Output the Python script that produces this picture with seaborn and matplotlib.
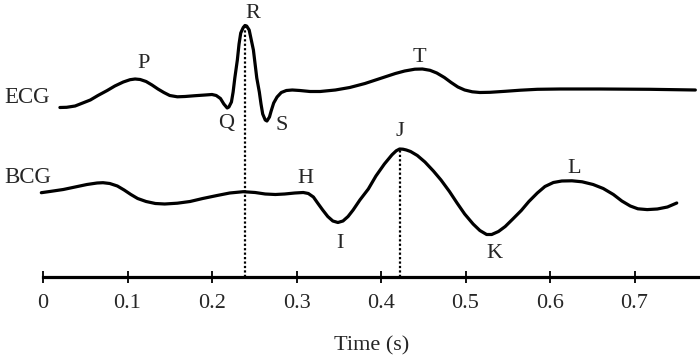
import numpy as np
import pandas as pd
import matplotlib
matplotlib.use("Agg")
import matplotlib.pyplot as plt
import seaborn as sns

# ---- data, time in s, amplitude in arbitrary units ----
ecg_time = [0.020, 0.028, 0.038, 0.047, 0.056, 0.065, 0.076, 0.085, 0.095, 0.103,
            0.109, 0.115, 0.122, 0.129, 0.136, 0.143, 0.150, 0.159, 0.168, 0.180,
            0.192, 0.200, 0.205, 0.210, 0.214, 0.218, 0.220, 0.223, 0.225, 0.227,
            0.230, 0.232, 0.234, 0.237, 0.239, 0.241, 0.244, 0.246, 0.249, 0.251,
            0.253, 0.256, 0.258, 0.260, 0.263, 0.265, 0.268, 0.270, 0.273, 0.277,
            0.282, 0.288, 0.295, 0.304, 0.316, 0.328, 0.346, 0.363, 0.381, 0.399,
            0.417, 0.428, 0.440, 0.449, 0.458, 0.466, 0.475, 0.483, 0.491, 0.499,
            0.508, 0.517, 0.529, 0.547, 0.565, 0.585, 0.612, 0.659, 0.718, 0.772]
ecg_amp = [-15.5, -15.3, -14, -11, -8, -3.5, 1.5, 6, 10, 12.3,
           13, 12.5, 10.5, 7, 3, -0.5, -3.5, -4.8, -4.5, -3.7,
           -3, -2.5, -3.5, -6.5, -12, -16, -15, -10, 0, 14,
           32, 48, 59, 64.5, 66.5, 66, 62, 54, 42, 28,
           14, 0, -12, -22, -28, -29, -25, -19, -11, -5,
           -0.5, 1.5, 2, 1.5, 0.5, 0.5, 2, 4.5, 8.5, 13.5,
           18.5, 21, 22.8, 23, 21.7, 19, 14.5, 9.5, 5, 2,
           0.2, -0.5, -0.3, 0.7, 1.8, 2.7, 3, 3, 2.7, 2]

bcg_time = [-0.002, 0.008, 0.024, 0.038, 0.052, 0.064, 0.071, 0.079, 0.088, 0.096,
            0.104, 0.112, 0.122, 0.133, 0.144, 0.159, 0.174, 0.189, 0.206, 0.221,
            0.237, 0.251, 0.263, 0.275, 0.286, 0.298, 0.308, 0.314, 0.320, 0.325,
            0.331, 0.337, 0.343, 0.349, 0.355, 0.361, 0.367, 0.375, 0.385, 0.394,
            0.404, 0.413, 0.418, 0.422, 0.426, 0.430, 0.435, 0.443, 0.452, 0.462,
            0.471, 0.481, 0.490, 0.499, 0.509, 0.517, 0.525, 0.531, 0.539, 0.547,
            0.556, 0.566, 0.575, 0.585, 0.594, 0.604, 0.614, 0.626, 0.638, 0.651,
            0.663, 0.675, 0.685, 0.695, 0.704, 0.715, 0.727, 0.739, 0.750]
bcg_amp = [-0.7, 0.5, 2.5, 5, 7.5, 9, 9.3, 8.5, 6, 2,
           -2.5, -6.5, -9.5, -11.5, -12, -11.2, -9.5, -6.5, -3.5, -1,
           0.3, -0.5, -2, -2.5, -2, -1, -0.5, -1.5, -5, -11,
           -18, -24.5, -29, -30.5, -29, -24.5, -18, -8, 3, 16,
           28, 37.2, 41.2, 43, 42.8, 42, 40.5, 36.5, 30, 21,
           12, 0.5, -11, -22, -32, -38.5, -42.5, -42.5, -39.5, -34.5,
           -27, -18.5, -9.5, -1, 5.5, 9.5, 11, 11.2, 10.2, 7.5,
           3.5, -2.5, -9, -14, -16.8, -17.6, -17, -15, -11]

tick_values = [0, 0.1, 0.2, 0.3, 0.4, 0.5, 0.6, 0.7]
tick_labels = ["0", "0.1", "0.2", "0.3", "0.4", "0.5", "0.6", "0.7"]

trace_names = ["ECG", "BCG"]
ecg_waves = ["P", "Q", "R", "S", "T"]
bcg_waves = ["H", "I", "J", "K", "L"]

# ---- layout ----
ecg_offset = 185
bcg_offset = 85
ecg_df = pd.DataFrame({"time": ecg_time, "y": np.array(ecg_amp) + ecg_offset})
bcg_df = pd.DataFrame({"time": bcg_time, "y": np.array(bcg_amp) + bcg_offset})

sns.set_style("white")
plt.rcParams["font.family"] = ["Liberation Serif", "DejaVu Serif"]

fig = plt.figure(figsize=(7.0, 3.61), dpi=100)
ax = fig.add_axes([0.0, 1 - 277 / 361, 1.0, 277 / 361])

line_kw = dict(color="black", lw=2.3, sort=False, estimator=None)
sns.lineplot(data=ecg_df, x="time", y="y", ax=ax, **line_kw)
sns.lineplot(data=bcg_df, x="time", y="y", ax=ax, **line_kw)
for ln in ax.lines:
    ln.set_solid_joinstyle("round")
    ln.set_solid_capstyle("round")

# dotted markers at R and J peaks
r_i = int(np.argmax(ecg_amp))
j_i = int(np.argmax(bcg_amp))
ax.vlines([ecg_time[r_i]], 0, ecg_amp[r_i] + ecg_offset, color="black",
          lw=1.6, linestyles=(0, (1, 1)))
ax.vlines([bcg_time[j_i]], 0, bcg_amp[j_i] + bcg_offset, color="black",
          lw=1.6, linestyles=(0, (1, 1)))

ax.set_xlim(-43 / 845, 657 / 845)
ax.set_ylim(0, 277)

fs = 16.5
ax.text(-0.0183, 174, trace_names[0], ha="center", va="baseline", fontsize=fs)
ax.text(-0.0183, 94, trace_names[1], ha="center", va="baseline", fontsize=fs)

ecg_pos = [(0.119, 209), (0.217, 149), (0.2485, 259), (0.283, 147), (0.446, 215)]
bcg_pos = [(0.310, 94), (0.351, 29), (0.4225, 141), (0.534, 19), (0.628, 104)]
for name, (tx, ty) in zip(ecg_waves, ecg_pos):
    ax.text(tx, ty, name, ha="center", va="baseline", fontsize=fs - 0.5)
for name, (tx, ty) in zip(bcg_waves, bcg_pos):
    ax.text(tx, ty, name, ha="center", va="baseline", fontsize=fs - 0.5)

for s in ["top", "right", "left"]:
    ax.spines[s].set_visible(False)
ax.spines["bottom"].set_linewidth(2.3)
ax.spines["bottom"].set_color("black")
ax.spines["bottom"].set_bounds(0, 657 / 845)

ax.set_yticks([])
ax.set_xticks(tick_values)
ax.set_xticklabels(tick_labels)
ax.tick_params(axis="x", direction="inout", length=8, width=1.3, color="black",
               labelsize=16, pad=8, bottom=True)
ax.set_xlabel("Time (s)", fontsize=16)
ax.xaxis.label.set_va("center")
ax.xaxis.set_label_coords(372 / 700, -(346 - 277) / 277)
ax.set_ylabel("")

fig.savefig("out.png", dpi=100)
